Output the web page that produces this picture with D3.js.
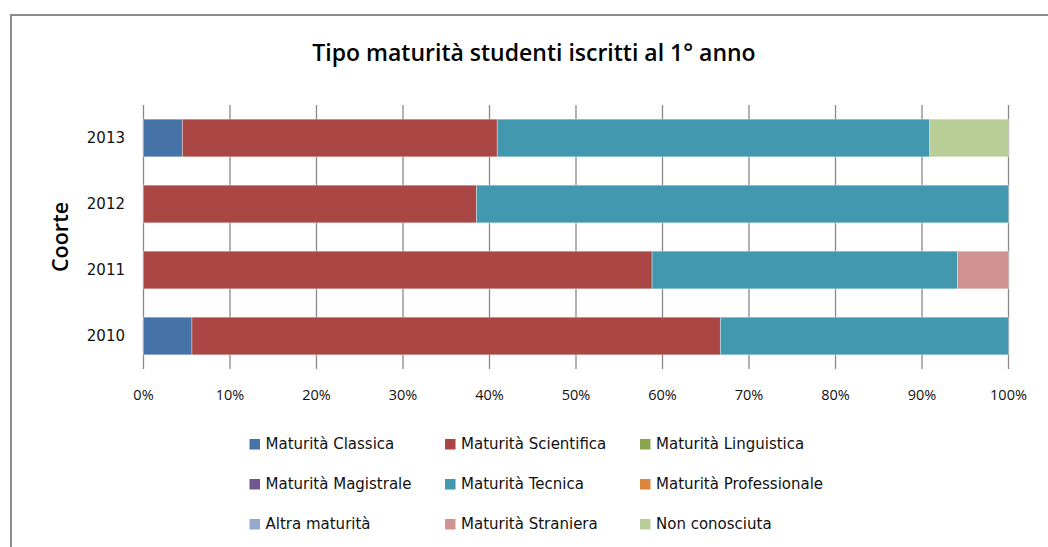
<!DOCTYPE html>
<html>
<head>
<meta charset="utf-8">
<script src="https://cdn.jsdelivr.net/npm/d3@7"></script>
<style>
  body { margin: 0; background: #fff; }
  svg { display: block; }
</style>
</head>
<body>
<div id="chart"></div>
<script>
// cohorts, top to bottom
var cohorts = ["2013", "2012", "2011", "2010"];

var seriesNames = [
    "Maturità Classica", "Maturità Scientifica", "Maturità Linguistica",
    "Maturità Magistrale", "Maturità Tecnica", "Maturità Professionale",
    "Altra maturità", "Maturità Straniera", "Non conosciuta"
];
var seriesColors = [
    "#4572a7", "#aa4643", "#89a54e",
    "#71588f", "#4198af", "#db843d",
    "#93a9cf", "#d19392", "#b9cd96"
];

// percent per cohort (2013, 2012, 2011, 2010)
var classica      = [4.5, 0, 0, 5.6];
var scientifica   = [36.4, 38.5, 58.8, 61.1];
var linguistica   = [0, 0, 0, 0];
var magistrale    = [0, 0, 0, 0];
var tecnica       = [50.0, 61.5, 35.3, 33.3];
var professionale = [0, 0, 0, 0];
var altra         = [0, 0, 0, 0];
var straniera     = [0, 0, 5.9, 0];
var nonConosciuta = [9.1, 0, 0, 0];

var xTicks = [0, 10, 20, 30, 40, 50, 60, 70, 80, 90, 100];

var seriesValues = [classica, scientifica, linguistica, magistrale, tecnica,
    professionale, altra, straniera, nonConosciuta];

var width = 1048, height = 547;

var rows = cohorts.map(function (c, i) {
    var r = { cohort: c };
    seriesNames.forEach(function (s, j) { r[s] = seriesValues[j][i]; });
    return r;
});

var stacked = d3.stack().keys(seriesNames)(rows);

var x = d3.scaleLinear().domain([0, 100]).range([143.5, 1008.5]);
var y = d3.scaleBand().domain(cohorts).range([105, 369]).paddingInner(0.43).paddingOuter(0.215);

var color = d3.scaleOrdinal().domain(seriesNames).range(seriesColors);

var svg = d3.select("#chart")
    .append("svg")
    .attr("width", width)
    .attr("height", height);

// chart frame
svg.append("path")
    .attr("d", "M11," + height + "V15H" + width)
    .attr("fill", "none")
    .attr("stroke", "#8c8c8c")
    .attr("stroke-width", 2);

// title
svg.append("text")
    .attr("x", 534)
    .attr("y", 61)
    .attr("text-anchor", "middle")
    .style("font-family", "'Open Sans', sans-serif")
    .style("font-weight", 600)
    .style("font-size", "23px")
    .attr("fill", "#000")
    .text("Tipo maturità studenti iscritti al 1° anno");

// vertical gridlines
svg.append("g")
    .selectAll("line")
    .data(xTicks)
    .enter().append("line")
    .attr("x1", function (d) { return x(d); })
    .attr("x2", function (d) { return x(d); })
    .attr("y1", 105)
    .attr("y2", 369)
    .attr("stroke", "#888")
    .attr("stroke-width", 1.3);

// bars
svg.append("g")
    .selectAll("g")
    .data(stacked)
    .enter().append("g")
    .attr("fill", function (d) { return color(d.key); })
    .selectAll("rect")
    .data(function (d) { return d.filter(function (p) { return p[1] - p[0] > 0; }); })
    .enter().append("rect")
    .attr("x", function (d) { return x(d[0]); })
    .attr("width", function (d) { return x(d[1]) - x(d[0]); })
    .attr("y", function (d) { return y(d.data.cohort); })
    .attr("height", y.bandwidth())
    .attr("stroke", "#fff")
    .attr("stroke-opacity", 0.35)
    .attr("stroke-width", 1);

// y labels
svg.append("g")
    .selectAll("text")
    .data(cohorts)
    .enter().append("text")
    .attr("x", 125)
    .attr("y", function (d) { return y(d) + y.bandwidth() / 2 + 5; })
    .attr("text-anchor", "end")
    .style("font-family", "'DejaVu Sans', sans-serif")
    .style("font-size", "15px")
    .attr("fill", "#111")
    .text(function (d) { return d; });

// x labels
svg.append("g")
    .selectAll("text")
    .data(xTicks)
    .enter().append("text")
    .attr("x", function (d) { return x(d); })
    .attr("y", 400)
    .attr("text-anchor", "middle")
    .style("font-family", "'Open Sans', sans-serif")
    .style("font-size", "14.5px")
    .attr("fill", "#111")
    .text(function (d) { return d + "%"; });

// y axis title
svg.append("text")
    .attr("transform", "translate(68,237) rotate(-90)")
    .attr("text-anchor", "middle")
    .style("font-family", "'Open Sans', sans-serif")
    .style("font-weight", 600)
    .style("font-size", "21.5px")
    .attr("fill", "#000")
    .text("Coorte");

// legend, 3 columns
var legendX = [249.5, 445, 640];
var legendY = [444, 484, 524];

var legend = svg.append("g")
    .selectAll("g")
    .data(seriesNames)
    .enter().append("g")
    .attr("transform", function (d, i) {
        return "translate(" + legendX[i % 3] + "," + legendY[Math.floor(i / 3)] + ")";
    });

legend.append("rect")
    .attr("x", 0)
    .attr("y", -5)
    .attr("width", 10.5)
    .attr("height", 10.5)
    .attr("fill", function (d) { return color(d); });

legend.append("text")
    .attr("x", 16)
    .attr("y", 5)
    .style("font-family", "'DejaVu Sans', sans-serif")
    .style("font-size", "15px")
    .attr("fill", "#111")
    .text(function (d) { return d; });
</script>
</body>
</html>
